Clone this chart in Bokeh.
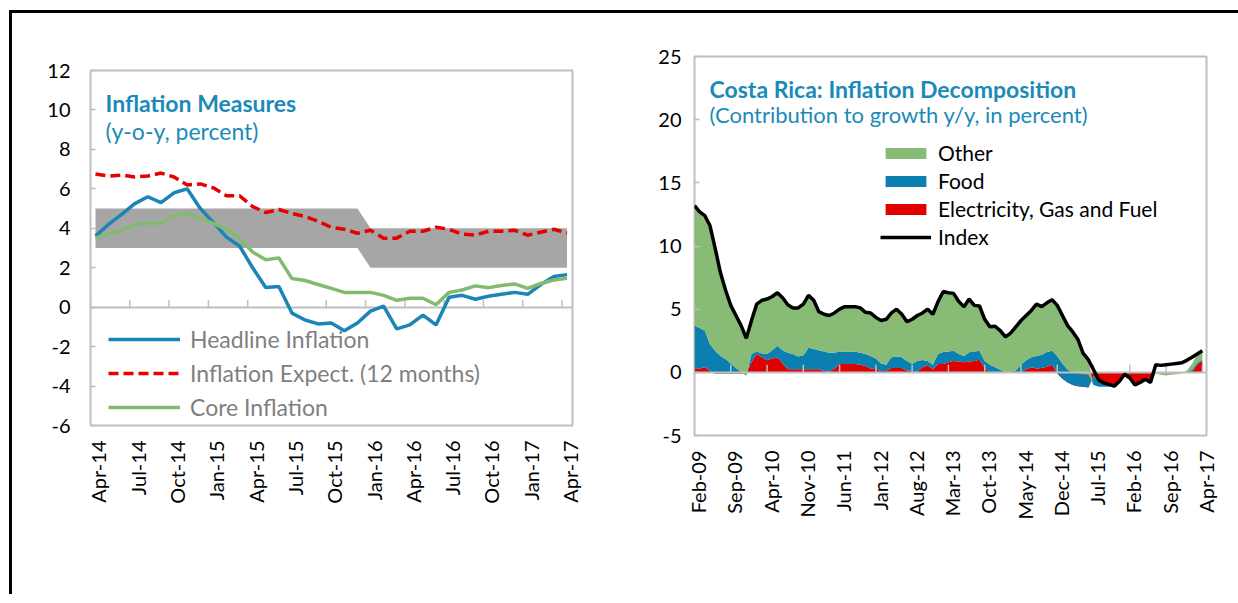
import math
import numpy as np
from bokeh.plotting import figure
from bokeh.models import (Range1d, FixedTicker, CustomJSTickFormatter, Label,
                          Legend, LegendItem)
from bokeh.layouts import row, column
from bokeh.embed import file_html
from bokeh.resources import INLINE

# ---------------- Left chart: Inflation Measures (Apr-14 .. Apr-17, monthly)
left_tick_labels = ["Apr-14", "Jul-14", "Oct-14", "Jan-15", "Apr-15", "Jul-15", "Oct-15",
                    "Jan-16", "Apr-16", "Jul-16", "Oct-16", "Jan-17", "Apr-17"]
headline = [3.6, 4.2, 4.7, 5.25, 5.6, 5.3, 5.8, 6.0, 5.0, 4.3,
            3.55, 3.1, 2.0, 1.0, 1.05, -0.3, -0.65, -0.85, -0.8, -1.2,
            -0.8, -0.2, 0.05, -1.1, -0.9, -0.4, -0.9, 0.5, 0.6, 0.4,
            0.55, 0.65, 0.75, 0.65, 1.15, 1.55, 1.65]
expectations = [6.75, 6.65, 6.7, 6.6, 6.65, 6.8, 6.6, 6.2, 6.25, 6.05,
                5.65, 5.65, 5.1, 4.8, 4.95, 4.75, 4.6, 4.35, 4.05, 3.95,
                3.75, 3.9, 3.5, 3.5, 3.85, 3.85, 4.05, 3.95, 3.7, 3.65,
                3.85, 3.85, 3.9, 3.65, 3.8, 3.95, 3.75]
core = [3.5, 3.7, 3.9, 4.2, 4.25, 4.25, 4.65, 4.75, 4.5, 4.25,
        3.95, 3.5, 2.8, 2.4, 2.5, 1.45, 1.35, 1.15, 0.95, 0.75,
        0.75, 0.75, 0.6, 0.35, 0.45, 0.45, 0.12, 0.75, 0.87, 1.08,
        0.99, 1.1, 1.18, 0.95, 1.2, 1.38, 1.47]
target_low = [3, 3, 3, 3, 3, 3, 3, 3, 3, 3, 3, 3, 3, 3, 3, 3, 3, 3, 3, 3, 3,
              2, 2, 2, 2, 2, 2, 2, 2, 2, 2, 2, 2, 2, 2, 2, 2]
target_high = [5, 5, 5, 5, 5, 5, 5, 5, 5, 5, 5, 5, 5, 5, 5, 5, 5, 5, 5, 5, 5,
               4, 4, 4, 4, 4, 4, 4, 4, 4, 4, 4, 4, 4, 4, 4, 4]

# ---------------- Right chart: Costa Rica inflation decomposition (Feb-09 .. Apr-17)
right_tick_labels = ["Feb-09", "Sep-09", "Apr-10", "Nov-10", "Jun-11", "Jan-12", "Aug-12",
                     "Mar-13", "Oct-13", "May-14", "Dec-14", "Jul-15", "Feb-16", "Sep-16",
                     "Apr-17"]
index_yy = [13.2, 12.7, 12.4, 11.6, 9.8, 7.9, 6.5, 5.3, 4.5, 3.7,
            2.7, 4.1, 5.4, 5.7, 5.8, 6.0, 6.3, 5.9, 5.35, 5.1,
            5.1, 5.4, 6.1, 5.7, 4.8, 4.6, 4.5, 4.7, 5.0, 5.2,
            5.2, 5.2, 5.1, 4.75, 4.7, 4.35, 4.1, 4.2, 4.7, 5.0,
            4.6, 4.0, 4.2, 4.5, 4.7, 5.0, 4.6, 5.6, 6.4, 6.3,
            6.25, 5.6, 5.2, 5.8, 5.3, 5.25, 4.2, 3.6, 3.65, 3.3,
            2.8, 3.1, 3.6, 4.1, 4.5, 4.9, 5.4, 5.2, 5.5, 5.75,
            5.3, 4.5, 3.7, 3.2, 2.6, 1.5, 1.0, 0.2, -0.6, -0.85,
            -0.95, -1.1, -0.7, -0.15, -0.45, -1.0, -0.8, -0.55, -0.8, 0.6,
            0.55, 0.6, 0.65, 0.7, 0.75, 0.95, 1.2, 1.45, 1.7]
electricity = [0.25, 0.3, 0.4, 0.1, -0.1, -0.1, -0.1, -0.1, -0.1, -0.1,
               -0.1, 0.8, 1.45, 1.2, 0.95, 1.1, 1.2, 0.7, 0.25, 0.25,
               0.25, 0.25, 0.25, 0.25, 0.25, 0.1, 0.05, 0.3, 0.65, 0.65,
               0.65, 0.65, 0.6, 0.5, 0.3, 0.25, 0.1, 0.1, 0.35, 0.35,
               0.35, 0.15, 0.1, 0.05, 0.4, 0.55, 0.25, 0.65, 0.65, 0.8,
               0.9, 0.85, 0.8, 0.85, 0.9, 1.0, 0.35, 0.0, 0.0, 0.0,
               0.0, 0.0, 0.0, 0.0, 0.25, 0.4, 0.3, 0.35, 0.45, 0.6,
               -0.1, -0.5, -0.8, -1.0, -1.1, -1.15, -1.2, -0.3, -0.6, -0.8,
               -0.9, -1.0, -0.65, -0.15, -0.45, -0.95, -0.8, -0.55, -0.7, 0.0,
               0.0, 0.0, 0.0, 0.0, 0.0, 0.0, 0.05, 0.6, 0.9]
food = [3.45, 3.2, 2.9, 2.1, 1.8, 1.4, 1.15, 0.8, 0.45, 0.1,
        -0.15, 0.65, 0.2, 0.3, 0.5, 0.65, 0.9, 1.05, 1.3, 1.2,
        1.0, 1.1, 1.7, 1.6, 1.5, 1.55, 1.5, 1.25, 1.0, 1.0,
        1.0, 0.98, 0.95, 0.95, 1.0, 0.85, 0.6, 0.5, 0.85, 0.9,
        0.85, 0.75, 0.55, 0.85, 0.57, 0.35, 0.35, 0.8, 0.95, 0.85,
        0.8, 0.6, 0.5, 0.73, 0.75, 0.7, 0.55, 0.6, 0.4, 0.2,
        0.0, 0.05, 0.15, 0.6, 0.7, 0.8, 1.0, 1.05, 1.15, 1.1,
        1.4, 1.2, 1.0, 1.0, 1.0, 1.0, 1.0, -0.7, -0.55, -0.35,
        -0.25, -0.15, -0.05, 0.0, 0.0, -0.05, 0.0, 0.0, 0.0, 0.0,
        0.0, 0.0, 0.0, 0.0, 0.0, 0.05, 0.15, 0.15, 0.1]
other = [9.5, 9.2, 9.1, 9.4, 8.1, 6.6, 5.45, 4.6, 4.15, 3.7,
         2.95, 2.65, 3.75, 4.2, 4.35, 4.25, 4.2, 4.15, 3.8, 3.65,
         3.85, 4.05, 4.15, 3.85, 3.05, 2.95, 2.95, 3.15, 3.35, 3.55,
         3.55, 3.57, 3.55, 3.3, 3.4, 3.25, 3.4, 3.6, 3.5, 3.75,
         3.4, 3.1, 3.55, 3.6, 3.73, 4.1, 4.0, 4.15, 4.8, 4.65,
         4.55, 4.15, 3.9, 4.22, 3.65, 3.55, 3.3, 3.0, 3.25, 3.1,
         2.8, 3.05, 3.45, 3.5, 3.55, 3.7, 4.1, 3.8, 3.9, 4.05,
         4.0, 3.8, 3.5, 3.2, 2.7, 1.65, 1.2, 0.0, 0.0, 0.0,
         0.0, 0.0, 0.0, 0.0, 0.0, 0.0, 0.0, 0.0, 0.0, -0.1,
         -0.2, -0.25, -0.2, -0.15, -0.1, 0.1, 0.45, 0.7, 0.7]

# ---------------- styling constants
FONT = "Lato"
TEAL = "#1B8AB8"
GRID_GRAY = "#BFBFBF"


def base_fig(width, height, xr, yr, mbl, mbr, mbt, mbb):
    p = figure(width=width, height=height, x_range=xr, y_range=yr,
               output_backend="svg", toolbar_location=None,
               min_border_left=mbl, min_border_right=mbr,
               min_border_top=mbt, min_border_bottom=mbb)
    p.grid.visible = False
    p.outline_line_color = GRID_GRAY
    p.outline_line_width = 2
    p.background_fill_color = "white"
    p.border_fill_color = "white"
    for ax in p.yaxis:
        ax.axis_line_color = None
        ax.major_tick_in = 5
        ax.major_tick_out = 0
        ax.major_tick_line_color = GRID_GRAY
        ax.major_tick_line_width = 1.5
        ax.minor_tick_line_color = None
        ax.major_label_text_font = FONT
        ax.major_label_text_font_size = "20px"
        ax.major_label_text_color = "black"
        ax.formatter = CustomJSTickFormatter(code="return String(tick);")
    for ax in p.xaxis:
        ax.axis_line_color = None
        ax.major_tick_line_color = None
        ax.minor_tick_line_color = None
        ax.major_tick_in = 0
        ax.major_tick_out = 0
        ax.major_label_orientation = math.pi / 2
        ax.major_label_standoff = 15
        ax.major_label_text_font = FONT
        ax.major_label_text_font_size = "20px"
        ax.major_label_text_color = "black"
    return p


def tick_formatter(labels, start, step):
    return CustomJSTickFormatter(args=dict(labels=labels, start=start, step=step),
                                 code="const i = Math.round((tick - start) / step);"
                                      "return (i >= 0 && i < labels.length) ? labels[i] : '';")


# ================= LEFT FIGURE
L_OFF = -0.38   # date-axis tick offset relative to monthly points
L_SHIFT = 0.61  # rotated label offset to the right of the tick
xl = list(range(len(headline)))
p1 = base_fig(620, 581, Range1d(L_OFF, 36.42), Range1d(-6, 12), 78, 60, 57, 169)
p1.yaxis.ticker = FixedTicker(ticks=list(range(-6, 13, 2)))
p1.yaxis.major_label_standoff = 20
l_ticks = [L_OFF + 3 * j for j in range(len(left_tick_labels))]
p1.xaxis.ticker = FixedTicker(ticks=[t + L_SHIFT for t in l_ticks])
p1.xaxis.formatter = tick_formatter(left_tick_labels, L_OFF + L_SHIFT, 3)

p1.varea(x=xl, y1=target_low, y2=target_high, fill_color="#A6A6A6", fill_alpha=1)
p1.hspan(y=[0], line_color=GRID_GRAY, line_width=2)
p1.segment(x0=l_ticks, y0=0, x1=l_ticks, y1=0.36, line_color=GRID_GRAY, line_width=1.5)
r_head = p1.line(xl, headline, line_color="#1A85B6", line_width=3.5)
r_exp = p1.line(xl, expectations, line_color="#E60000", line_width=3.5, line_dash="10 5")
r_core = p1.line(xl, core, line_color="#82BB70", line_width=3.5)

leg1 = Legend(items=[LegendItem(label="Headline Inflation", renderers=[r_head]),
                     LegendItem(label="Inflation Expect. (12 months)", renderers=[r_exp]),
                     LegendItem(label="Core Inflation", renderers=[r_core])],
              location=(18, 4), orientation="vertical",
              glyph_width=72, glyph_height=26, label_height=26, spacing=6,
              label_standoff=10, padding=0, margin=0,
              label_text_font=FONT, label_text_font_size="23px",
              label_text_color="#7F7F7F",
              border_line_color=None, background_fill_alpha=0)
p1.add_layout(leg1)

p1.add_layout(Label(x=0.77, y=10.37, text="Inflation Measures", text_font=FONT,
                    text_font_size="23px", text_font_style="bold", text_color=TEAL,
                    text_align="left", text_baseline="alphabetic"))
p1.add_layout(Label(x=0.77, y=8.95, text="(y-o-y, percent)", text_font=FONT,
                    text_font_size="23px", text_color=TEAL,
                    text_align="left", text_baseline="alphabetic"))

# ================= RIGHT FIGURE
R_SHIFT = 0.7
xr = np.arange(len(index_yy))
p2 = base_fig(606, 581, Range1d(0, 98.8), Range1d(-5, 25), 62, 32, 43, 159)
p2.yaxis.ticker = FixedTicker(ticks=list(range(-5, 26, 5)))
p2.yaxis.major_label_standoff = 13
r_ticks = [7 * j for j in range(len(right_tick_labels))]
p2.xaxis.ticker = FixedTicker(ticks=[t + R_SHIFT for t in r_ticks])
p2.xaxis.formatter = tick_formatter(right_tick_labels, R_SHIFT, 7)

c1 = np.array(electricity)
c2 = c1 + np.array(food)
c3 = c2 + np.array(other)
r_el = p2.varea(x=xr, y1=0, y2=c1, fill_color="#E00000", fill_alpha=1)
r_food = p2.varea(x=xr, y1=c1, y2=c2, fill_color="#0B7FB0", fill_alpha=1)
r_oth = p2.varea(x=xr, y1=c2, y2=c3, fill_color="#87BB76", fill_alpha=1)
p2.hspan(y=[0], line_color=GRID_GRAY, line_width=2)
p2.segment(x0=r_ticks[1:], y0=0, x1=r_ticks[1:], y1=0.6, line_color=GRID_GRAY, line_width=1.5)
r_idx = p2.line(xr, index_yy, line_color="black", line_width=3.5)

leg2 = Legend(items=[LegendItem(label="Other", renderers=[r_oth]),
                     LegendItem(label="Food", renderers=[r_food]),
                     LegendItem(label="Electricity, Gas and Fuel", renderers=[r_el]),
                     LegendItem(label="Index", renderers=[r_idx])],
              location=(186, 186), orientation="vertical",
              glyph_width=51, glyph_height=14, label_height=25, spacing=3,
              label_standoff=7, padding=0, margin=0,
              label_text_font=FONT, label_text_font_size="21px",
              label_text_color="black",
              border_line_color=None, background_fill_alpha=0)
p2.add_layout(leg2)

p2.add_layout(Label(x=2.9, y=22.43, text="Costa Rica: Inflation Decomposition", text_font=FONT,
                    text_font_size="23px", text_font_style="bold", text_color=TEAL,
                    text_align="left", text_baseline="alphabetic"))
p2.add_layout(Label(x=2.9, y=20.4, text="(Contribution to growth y/y, in percent)",
                    text_font=FONT, text_font_size="22px", text_color=TEAL,
                    text_align="left", text_baseline="alphabetic"))

layout = row(column(p1), column(p2),
             styles={"border-top": "3px solid black", "border-left": "3px solid black",
                     "margin-top": "10px", "margin-left": "9px"})

open("out.html", "w").write(file_html(layout, INLINE))
